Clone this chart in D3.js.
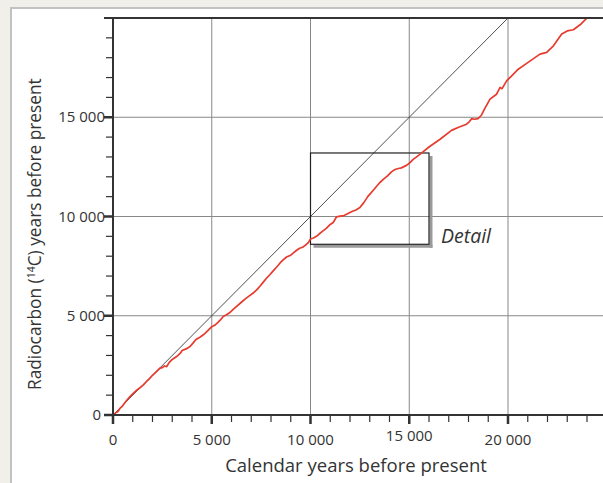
<!DOCTYPE html>
<html><head><meta charset="utf-8">
<script src="https://cdn.jsdelivr.net/npm/d3@7"></script>
<style>
html,body{margin:0;padding:0;background:#f0efea;}
svg{display:block;font-family:"Open Sans",sans-serif;}
</style></head>
<body>
<svg id="chart" width="603" height="483"></svg>
<script>
// Calibration curve: calendar years BP -> radiocarbon years BP
const calYears = [0,80,150,250,350,450,600,730,860,1000,1200,1350,1540,1700,1850,2000,2200,2380,2500,2600,2720,2850,3000,3220,3400,3500,3700,3900,4050,4200,4400,4575,4800,5000,5150,5300,5450,5580,5750,5900,6100,6260,6500,6700,6900,7100,7300,7450,7600,7780,7950,8100,8300,8460,8600,8790,8900,9000,9150,9300,9450,9600,9750,9900,10000,10150,10300,10450,10600,10800,11000,11150,11320,11500,11700,11900,12100,12300,12500,12700,12900,13200,13500,13700,13900,14100,14280,14450,14600,14860,15000,15200,15540,16000,16560,17140,17500,17900,18050,18160,18300,18480,18650,18800,19090,19420,19600,19700,19930,20200,20520,21000,21620,21960,22300,22720,23000,23310,23700,24000];
const c14Years = [50,60,120,180,330,420,620,780,925,1060,1250,1360,1515,1690,1830,2000,2190,2360,2390,2470,2440,2650,2800,2945,3100,3250,3330,3450,3620,3800,3920,4040,4250,4450,4520,4650,4800,4965,5050,5150,5330,5470,5680,5850,6000,6145,6330,6500,6680,6900,7080,7250,7470,7660,7800,7960,8010,8050,8180,8300,8400,8450,8560,8700,8870,8920,9000,9130,9250,9400,9600,9700,9985,10020,10050,10150,10250,10330,10450,10700,11000,11350,11700,11880,12050,12250,12370,12420,12450,12575,12680,12880,13130,13500,13890,14340,14500,14650,14780,14930,14900,14930,15100,15400,15910,16160,16500,16440,16830,17100,17420,17750,18180,18270,18600,19190,19350,19410,19700,20000];
const xTickLabels = ["0","5 000","10 000","15 000","20 000"];
const xTickValues = [0,5000,10000,15000,20000];
const yTickLabels = ["0","5 000","10 000","15 000"];
const yTickValues = [0,5000,10000,15000];
const detailBox = [10000,16000,8600,13200]; // cal from, cal to, 14C from, 14C to

const svg = d3.select("#chart");
// white panel
svg.append("rect").attr("x",11).attr("y",8).attr("width",620).attr("height",500)
  .attr("fill","#fff").attr("stroke","#c2c2c2").attr("stroke-width",2);

const x = d3.scaleLinear().domain([0,20000]).range([113,508]);
const y = d3.scaleLinear().domain([0,20000]).range([415,18]);
const xMax = 603;

// grid
const g = svg.append("g");
xTickValues.slice(1).forEach(v=>{
  g.append("line").attr("x1",x(v)).attr("x2",x(v)).attr("y1",y(20000)).attr("y2",y(0))
   .attr("stroke","#888").attr("stroke-width",1);
});
yTickValues.slice(1).forEach(v=>{
  g.append("line").attr("x1",x(0)).attr("x2",xMax).attr("y1",y(v)).attr("y2",y(v))
   .attr("stroke","#888").attr("stroke-width",1);
});

// 1:1 line
svg.append("line").attr("x1",x(0)).attr("y1",y(0)).attr("x2",x(20000)).attr("y2",y(20000))
  .attr("stroke","#222").attr("stroke-width",0.8);

// detail box with shadow
const bx0=x(detailBox[0]), bx1=x(detailBox[1]), by0=y(detailBox[3]), by1=y(detailBox[2]);
svg.append("line").attr("x1",bx1+2).attr("x2",bx1+2).attr("y1",by0+3).attr("y2",by1+3.5)
  .attr("stroke","#9a9a9a").attr("stroke-width",3);
svg.append("line").attr("x1",bx0+3).attr("x2",bx1+3.5).attr("y1",by1+2).attr("y2",by1+2)
  .attr("stroke","#9a9a9a").attr("stroke-width",3);
svg.append("rect").attr("x",bx0).attr("y",by0).attr("width",bx1-bx0).attr("height",by1-by0)
  .attr("fill","none").attr("stroke","#222").attr("stroke-width",1.2);
svg.append("text").attr("x",441).attr("y",243).attr("font-size",19.5).attr("font-style","italic")
  .attr("fill","#333").text("Detail");

// curve
svg.append("clipPath").attr("id","clip").append("rect")
  .attr("x",x(0)).attr("y",y(20000)).attr("width",xMax-x(0)).attr("height",y(0)-y(20000)+2);
const pts = calYears.map((c,i)=>[c,c14Years[i]]);
svg.append("path").datum(pts).attr("clip-path","url(#clip)")
  .attr("d",d3.line().x(d=>x(d[0])).y(d=>y(d[1])))
  .attr("fill","none").attr("stroke","#e63b2e").attr("stroke-width",1.7).attr("stroke-linejoin","round");

// axes frame
svg.append("line").attr("x1",104).attr("x2",xMax).attr("y1",y(20000)).attr("y2",y(20000))
  .attr("stroke","#333").attr("stroke-width",2);
svg.append("line").attr("x1",x(0)).attr("x2",x(0)).attr("y1",y(20000)).attr("y2",y(0)+1)
  .attr("stroke","#333").attr("stroke-width",2);
svg.append("line").attr("x1",x(0)-1).attr("x2",xMax).attr("y1",y(0)).attr("y2",y(0))
  .attr("stroke","#333").attr("stroke-width",2);

// x ticks
d3.range(0,25000,1000).forEach(v=>{
  const major = v%5000===0;
  svg.append("line").attr("x1",x(v)).attr("x2",x(v)).attr("y1",y(0)).attr("y2",y(0)+(major?9:7))
    .attr("stroke","#333").attr("stroke-width",major?2.5:1.2);
});
// y ticks
d3.range(0,20000,1000).forEach(v=>{
  const major = v%5000===0;
  svg.append("line").attr("x1",x(0)).attr("x2",x(0)-(major?9:7)).attr("y1",y(v)).attr("y2",y(v))
    .attr("stroke","#333").attr("stroke-width",major?2.5:1.2);
});

// tick labels
xTickValues.forEach((v,i)=>{
  svg.append("text").attr("x",x(v)).attr("y",i===3?441:445).attr("text-anchor","middle")
    .attr("font-size",15).attr("fill","#333").text(xTickLabels[i]);
});
yTickValues.forEach((v,i)=>{
  svg.append("text").attr("x",i===0?101:105).attr("y",y(v)+5).attr("text-anchor","end")
    .attr("font-size",15).attr("fill","#333").text(yTickLabels[i]);
});

// axis titles
svg.append("text").attr("x",356).attr("y",472).attr("text-anchor","middle")
  .attr("font-size",18.5).attr("fill","#333").text("Calendar years before present");
const yt = svg.append("text").attr("transform","translate(41,390) rotate(-90)")
  .attr("text-anchor","start").attr("font-size",17.3).attr("fill","#333");
yt.append("tspan").text("Radiocarbon (");
yt.append("tspan").attr("font-size",10.5).attr("dy",-6).text("14");
yt.append("tspan").attr("dy",6).text("C) years before present");
</script>
</body></html>
